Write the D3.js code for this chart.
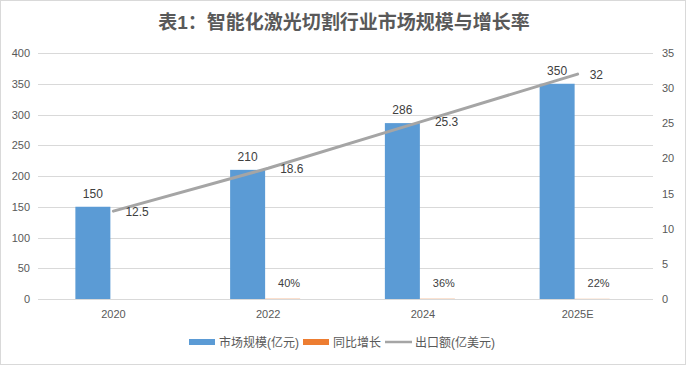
<!DOCTYPE html>
<html><head><meta charset="utf-8">
<script src="https://cdn.jsdelivr.net/npm/d3@7"></script>
<style>
html,body{margin:0;padding:0;background:#fff;}
text{font-family:"Liberation Sans","Noto Sans CJK SC",sans-serif;}
</style></head>
<body><svg id="c" width="686" height="365"></svg>
<script>
const categories = ["2020", "2022", "2024", "2025E"];
const marketSize = [150, 210, 286, 350];          // 市场规模(亿元)
const yoyGrowth = [null, 0.40, 0.36, 0.22];        // 同比增长
const exportValue = [12.5, 18.6, 25.3, 32];       // 出口额(亿美元)
const leftTicks = [0, 50, 100, 150, 200, 250, 300, 350, 400];
const rightTicks = [0, 5, 10, 15, 20, 25, 30, 35];
const seriesNames = ["市场规模(亿元)", "同比增长", "出口额(亿美元)"];
const chartTitle = "表1：智能化激光切割行业市场规模与增长率";

(function () {
const svg = d3.select("#c");
const W = 686, H = 365;
const txt = "#595959";

svg.append("rect").attr("x", 0.5).attr("y", 0.5).attr("width", W - 1).attr("height", H - 1)
  .attr("fill", "#fff").attr("stroke", "#d9d9d9");

svg.append("text").attr("x", 344).attr("y", 29).attr("text-anchor", "middle")
  .attr("font-size", 19).attr("font-weight", "bold").attr("fill", txt).text(chartTitle);

const pL = 36, pR = 655, pT = 53, pB = 299;
const x = d3.scaleBand().domain(categories).range([pL, pR]).padding(0);
const x1 = d3.scaleBand().domain([seriesNames[0], seriesNames[1]]).range([-38, 32]).padding(0);
const yL = d3.scaleLinear().domain([0, 400]).range([pB, pT]);
const yR = d3.scaleLinear().domain([0, 35]).range([pB, pT]);
const cx = c => x(c) + x.bandwidth() / 2;

// gridlines
svg.append("g").selectAll("line").data(leftTicks).join("line")
  .attr("x1", pL + 2).attr("x2", pR - 2)
  .attr("y1", d => Math.round(yL(d)) + 0.5).attr("y2", d => Math.round(yL(d)) + 0.5)
  .attr("stroke", "#d9d9d9").attr("stroke-width", 1);

// left axis
const axL = svg.append("g").attr("transform", `translate(${pL - 6},0)`)
  .call(d3.axisLeft(yL).tickValues(leftTicks).tickSize(0).tickPadding(0));
axL.select(".domain").remove();
axL.selectAll("text").attr("fill", txt).attr("font-size", 11);

// right axis
const axR = svg.append("g").attr("transform", `translate(${pR + 7},0)`)
  .call(d3.axisRight(yR).tickValues(rightTicks).tickSize(0).tickPadding(0));
axR.select(".domain").remove();
axR.selectAll("text").attr("fill", txt).attr("font-size", 11);

// bottom axis labels
const axB = svg.append("g").attr("transform", `translate(0,${pB})`)
  .call(d3.axisBottom(x).tickSize(0).tickPadding(19));
axB.select(".domain").remove();
axB.selectAll("text").attr("fill", txt).attr("font-size", 11).attr("dy", "0");

// blue bars
svg.append("g").selectAll("rect").data(categories).join("rect")
  .attr("x", (c) => cx(c) + x1(seriesNames[0]))
  .attr("width", x1.bandwidth())
  .attr("y", (c, i) => yL(marketSize[i]))
  .attr("height", (c, i) => yL(0) - yL(marketSize[i]))
  .attr("fill", "#5B9BD5");

const growthCats = categories.filter((c, i) => yoyGrowth[i] != null);
const gv = c => yoyGrowth[categories.indexOf(c)];

// orange bars (tiny values on left scale)
svg.append("g").selectAll("rect").data(growthCats).join("rect")
  .attr("x", c => cx(c) + x1(seriesNames[1]))
  .attr("width", x1.bandwidth())
  .attr("y", c => yL(gv(c)))
  .attr("height", c => yL(0) - yL(gv(c)))
  .attr("fill", "#ED7D31");

// bar labels
svg.append("g").selectAll("text").data(categories).join("text")
  .attr("x", c => cx(c) + x1(seriesNames[0]) + x1.bandwidth() / 2)
  .attr("y", (c, i) => yL(marketSize[i]) - 9)
  .attr("text-anchor", "middle").attr("font-size", 12).attr("fill", "#404040")
  .text((c, i) => marketSize[i]);

// percent labels
svg.append("g").selectAll("text").data(growthCats).join("text")
  .attr("x", c => cx(c) + 21)
  .attr("y", c => yL(gv(c)) - 12)
  .attr("text-anchor", "middle").attr("font-size", 11).attr("fill", "#404040")
  .text(c => Math.round(gv(c) * 100) + "%");

// line
const line = d3.line().x((d, i) => cx(categories[i])).y(d => yR(d));
svg.append("path").datum(exportValue).attr("d", line)
  .attr("fill", "none").attr("stroke", "#A5A5A5").attr("stroke-width", 3).attr("stroke-linecap", "round");

// line labels
svg.append("g").selectAll("text").data(exportValue).join("text")
  .attr("x", (d, i) => cx(categories[i]) + 12)
  .attr("y", d => yR(d) + 5)
  .attr("font-size", 12).attr("fill", "#404040")
  .text(d => d);

// legend
const lg = svg.append("g");
const ly = 342;
lg.append("rect").attr("x", 189).attr("y", ly - 3).attr("width", 26).attr("height", 6).attr("fill", "#5B9BD5");
lg.append("text").attr("x", 219).attr("y", ly + 4.5).attr("font-size", 12).attr("fill", txt).text(seriesNames[0]);
lg.append("rect").attr("x", 303).attr("y", ly - 3).attr("width", 26).attr("height", 6).attr("fill", "#ED7D31");
lg.append("text").attr("x", 333).attr("y", ly + 4.5).attr("font-size", 12).attr("fill", txt).text(seriesNames[1]);
lg.append("line").attr("x1", 385).attr("x2", 412).attr("y1", ly).attr("y2", ly).attr("stroke", "#A5A5A5").attr("stroke-width", 2.5);
lg.append("text").attr("x", 415).attr("y", ly + 4.5).attr("font-size", 12).attr("fill", txt).text(seriesNames[2]);
})();
</script></body></html>
